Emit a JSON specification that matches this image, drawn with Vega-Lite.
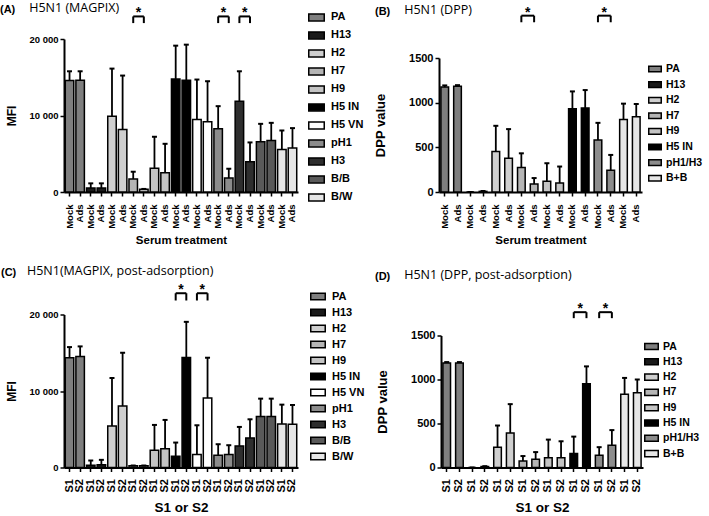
{
  "$schema": "https://vega.github.io/schema/vega-lite/v6.json",
  "padding": {"left": 0, "top": 2, "right": 0, "bottom": 0},
  "autosize": {"type": "pad"},
  "config": {
    "view": {"stroke": null},
    "font": "Liberation Sans",
    "axis": {"labelFont": "Liberation Sans", "labelFontWeight": "bold", "labelColor": "black", "titleFont": "Liberation Sans", "titleFontWeight": "bold", "titleColor": "black", "domainColor": "black", "domainWidth": 2, "tickColor": "black", "tickWidth": 1.5, "tickSize": 4, "grid": false, "labelPadding": 2},
    "axisX": {"labelAngle": -90, "labelFontSize": 9.5, "titleFontSize": 11.5, "titlePadding": 6, "labelPadding": 8},
    "axisY": {"labelFontSize": 9.5, "titleFontSize": 12, "titlePadding": 10},
    "title": {"font": "Liberation Sans", "fontSize": 11, "fontWeight": "bold", "color": "black", "subtitleFont": "Open Sans", "subtitleFontSize": 12.5, "subtitleColor": "black", "subtitleFontWeight": "normal", "anchor": "start", "frame": "group", "subtitlePadding": -13},
    "legend": {"orient": "none", "title": null, "symbolType": "M-1,-0.45H1V0.45H-1Z", "symbolStrokeColor": "black", "symbolStrokeWidth": 1.5, "labelFont": "Liberation Sans", "labelFontWeight": "bold", "labelFontSize": 11, "labelColor": "black", "labelOffset": 6, "padding": 0}
  },
  "datasets": {
    "A": [
      {"id": "PA|Mock", "g": "PA", "v": 14570, "hi": 15780},
      {"id": "PA|Ads", "g": "PA", "v": 14610, "hi": 15780},
      {"id": "H13|Mock", "g": "H13", "v": 520, "hi": 1130},
      {"id": "H13|Ads", "g": "H13", "v": 520, "hi": 1130},
      {"id": "H2|Mock", "g": "H2", "v": 9910, "hi": 16130},
      {"id": "H2|Ads", "g": "H2", "v": 8170, "hi": 15220},
      {"id": "H7|Mock", "g": "H7", "v": 1700, "hi": 2650},
      {"id": "H7|Ads", "g": "H7", "v": 350, "hi": 400},
      {"id": "H9|Mock", "g": "H9", "v": 3090, "hi": 7220},
      {"id": "H9|Ads", "g": "H9", "v": 2520, "hi": 6300},
      {"id": "H5 IN|Mock", "g": "H5 IN", "v": 14780, "hi": 19130},
      {"id": "H5 IN|Ads", "g": "H5 IN", "v": 14610, "hi": 19260},
      {"id": "H5 VN|Mock", "g": "H5 VN", "v": 9480, "hi": 14700},
      {"id": "H5 VN|Ads", "g": "H5 VN", "v": 9170, "hi": 14480},
      {"id": "pH1|Mock", "g": "pH1", "v": 8260, "hi": 11220},
      {"id": "pH1|Ads", "g": "pH1", "v": 1830, "hi": 3040},
      {"id": "H3|Mock", "g": "H3", "v": 11870, "hi": 15780},
      {"id": "H3|Ads", "g": "H3", "v": 3960, "hi": 6480},
      {"id": "B/B|Mock", "g": "B/B", "v": 6570, "hi": 8910},
      {"id": "B/B|Ads", "g": "B/B", "v": 6740, "hi": 9040},
      {"id": "B/W|Mock", "g": "B/W", "v": 5570, "hi": 8040},
      {"id": "B/W|Ads", "g": "B/W", "v": 5740, "hi": 8350}
    ],
    "B": [
      {"id": "PA|Mock", "g": "PA", "v": 1174, "hi": 1193},
      {"id": "PA|Ads", "g": "PA", "v": 1185, "hi": 1196},
      {"id": "H13|Mock", "g": "H13", "v": 0, "hi": 0},
      {"id": "H13|Ads", "g": "H13", "v": 7, "hi": 11},
      {"id": "H2|Mock", "g": "H2", "v": 452, "hi": 741},
      {"id": "H2|Ads", "g": "H2", "v": 378, "hi": 704},
      {"id": "H7|Mock", "g": "H7", "v": 274, "hi": 433},
      {"id": "H7|Ads", "g": "H7", "v": 89, "hi": 156},
      {"id": "H9|Mock", "g": "H9", "v": 119, "hi": 322},
      {"id": "H9|Ads", "g": "H9", "v": 100, "hi": 285},
      {"id": "H5 IN|Mock", "g": "H5 IN", "v": 933, "hi": 1126},
      {"id": "H5 IN|Ads", "g": "H5 IN", "v": 941, "hi": 1141},
      {"id": "pH1/H3|Mock", "g": "pH1/H3", "v": 581, "hi": 774},
      {"id": "pH1/H3|Ads", "g": "pH1/H3", "v": 244, "hi": 415},
      {"id": "B+B|Mock", "g": "B+B", "v": 811, "hi": 989},
      {"id": "B+B|Ads", "g": "B+B", "v": 841, "hi": 985}
    ],
    "C": [
      {"id": "PA|S1", "g": "PA", "v": 14350, "hi": 15740},
      {"id": "PA|S2", "g": "PA", "v": 14520, "hi": 15830},
      {"id": "H13|S1", "g": "H13", "v": 300, "hi": 913},
      {"id": "H13|S2", "g": "H13", "v": 350, "hi": 1000},
      {"id": "H2|S1", "g": "H2", "v": 5435, "hi": 11700},
      {"id": "H2|S2", "g": "H2", "v": 8043, "hi": 15000},
      {"id": "H7|S1", "g": "H7", "v": 217, "hi": 260},
      {"id": "H7|S2", "g": "H7", "v": 217, "hi": 260},
      {"id": "H9|S1", "g": "H9", "v": 2261, "hi": 5565},
      {"id": "H9|S2", "g": "H9", "v": 2435, "hi": 6217},
      {"id": "H5 IN|S1", "g": "H5 IN", "v": 1478, "hi": 3260},
      {"id": "H5 IN|S2", "g": "H5 IN", "v": 14390, "hi": 19040},
      {"id": "H5 VN|S1", "g": "H5 VN", "v": 1696, "hi": 5520},
      {"id": "H5 VN|S2", "g": "H5 VN", "v": 9087, "hi": 14350},
      {"id": "pH1|S1", "g": "pH1", "v": 1609, "hi": 3043},
      {"id": "pH1|S2", "g": "pH1", "v": 1696, "hi": 2913},
      {"id": "H3|S1", "g": "H3", "v": 2826, "hi": 5304},
      {"id": "H3|S2", "g": "H3", "v": 3870, "hi": 6300},
      {"id": "B/B|S1", "g": "B/B", "v": 6652, "hi": 9000},
      {"id": "B/B|S2", "g": "B/B", "v": 6652, "hi": 9000},
      {"id": "B/W|S1", "g": "B/W", "v": 5696, "hi": 8217},
      {"id": "B/W|S2", "g": "B/W", "v": 5652, "hi": 8174}
    ],
    "D": [
      {"id": "PA|S1", "g": "PA", "v": 1188, "hi": 1198},
      {"id": "PA|S2", "g": "PA", "v": 1188, "hi": 1198},
      {"id": "H13|S1", "g": "H13", "v": 0, "hi": 0},
      {"id": "H13|S2", "g": "H13", "v": 11, "hi": 15},
      {"id": "H2|S1", "g": "H2", "v": 231, "hi": 477},
      {"id": "H2|S2", "g": "H2", "v": 392, "hi": 720},
      {"id": "H7|S1", "g": "H7", "v": 75, "hi": 130},
      {"id": "H7|S2", "g": "H7", "v": 93, "hi": 175},
      {"id": "H9|S1", "g": "H9", "v": 112, "hi": 317},
      {"id": "H9|S2", "g": "H9", "v": 112, "hi": 298},
      {"id": "H5 IN|S1", "g": "H5 IN", "v": 160, "hi": 351},
      {"id": "H5 IN|S2", "g": "H5 IN", "v": 951, "hi": 1149},
      {"id": "pH1/H3|S1", "g": "pH1/H3", "v": 138, "hi": 231},
      {"id": "pH1/H3|S2", "g": "pH1/H3", "v": 254, "hi": 425},
      {"id": "B+B|S1", "g": "B+B", "v": 832, "hi": 1018},
      {"id": "B+B|S2", "g": "B+B", "v": 850, "hi": 1000}
    ],
    "sA": [{"a": "H7|Mock", "b": "H7|Ads"}, {"a": "pH1|Mock", "b": "pH1|Ads"}, {"a": "H3|Mock", "b": "H3|Ads"}],
    "sB": [{"a": "H7|Mock", "b": "H7|Ads"}, {"a": "pH1/H3|Mock", "b": "pH1/H3|Ads"}],
    "sC": [{"a": "H5 IN|S1", "b": "H5 IN|S2"}, {"a": "H5 VN|S1", "b": "H5 VN|S2"}],
    "sD": [{"a": "H5 IN|S1", "b": "H5 IN|S2"}, {"a": "pH1/H3|S1", "b": "pH1/H3|S2"}]
  },
  "vconcat": [
    {
      "hconcat": [
        {
          "width": 234, "height": 153,
          "title": {"text": "(A)", "subtitle": "\u200b\u00a0\u00a0\u00a0\u00a0\u00a0\u00a0\u00a0\u00a0\u00a0H5N1 (MAGPIX)", "dx": -64, "offset": -11},
          "layer": [
            {
              "data": {"name": "A"},
              "encoding": {"x": {"field": "id", "type": "nominal", "scale": {"domain": ["PA|Mock","PA|Ads","H13|Mock","H13|Ads","H2|Mock","H2|Ads","H7|Mock","H7|Ads","H9|Mock","H9|Ads","H5 IN|Mock","H5 IN|Ads","H5 VN|Mock","H5 VN|Ads","pH1|Mock","pH1|Ads","H3|Mock","H3|Ads","B/B|Mock","B/B|Ads","B/W|Mock","B/W|Ads"], "paddingInner": 0.2, "paddingOuter": 0.12}, "axis": {"title": "Serum treatment", "labelExpr": "split(datum.value, '|')[1]"}}},
              "layer": [
                {"mark": {"type": "bar", "stroke": "black", "strokeWidth": 1.5},
                 "encoding": {
                   "y": {"field": "v", "type": "quantitative", "scale": {"domain": [0, 20000], "nice": false}, "axis": {"title": "MFI", "values": [0, 5000, 10000, 15000, 20000], "labelExpr": "datum.value >= 10000 ? floor(datum.value / 1000) + ' 000' : '' + datum.value"}},
                   "fill": {"field": "g", "type": "nominal", "scale": {"domain": ["PA","H13","H2","H7","H9","H5 IN","H5 VN","pH1","H3","B/B","B/W"], "range": ["#7f7f7f","#1a1a1a","#cfcfcf","#b5b5b5","#c4c4c4","#000000","#ffffff","#8c8c8c","#2e2e2e","#5a5a5a","#e6e6e6"]}, "legend": {"legendX": 244, "legendY": -30.1, "symbolSize": 240, "rowPadding": 3.0}}
                 }},
                {"mark": {"type": "rule", "strokeWidth": 1.8, "color": "black"}, "encoding": {"y": {"field": "v", "type": "quantitative"}, "y2": {"field": "hi"}}},
                {"mark": {"type": "tick", "color": "black", "thickness": 2, "size": 5, "opacity": 1}, "encoding": {"y": {"field": "hi", "type": "quantitative"}}}
              ]
            },
            {
              "data": {"name": "sA"},
              "layer": [
                {"mark": {"type": "rule", "strokeWidth": 2, "color": "black"}, "encoding": {"x": {"field": "a", "type": "nominal"}, "x2": {"field": "b"}, "y": {"datum": 22950, "type": "quantitative"}}},
                {"mark": {"type": "rule", "strokeWidth": 2, "color": "black"}, "encoding": {"x": {"field": "a", "type": "nominal"}, "y": {"datum": 22950, "type": "quantitative"}, "y2": {"datum": 22080}}},
                {"mark": {"type": "rule", "strokeWidth": 2, "color": "black"}, "encoding": {"x": {"field": "b", "type": "nominal"}, "y": {"datum": 22950, "type": "quantitative"}, "y2": {"datum": 22080}}},
                {"mark": {"type": "text", "text": "*", "fontSize": 14, "fontWeight": "bold", "baseline": "alphabetic", "dy": 1}, "encoding": {"x": {"field": "a", "type": "nominal", "bandPosition": 1.125}, "y": {"datum": 22950, "type": "quantitative"}}}
              ]
            }
          ]
        },
        {
          "width": 203, "height": 153,
          "title": {"text": "(B)", "subtitle": "\u200b\u00a0\u00a0\u00a0\u00a0\u00a0\u00a0\u00a0\u00a0\u00a0H5N1 (DPP)", "dx": -64, "offset": -13},
          "layer": [
            {
              "data": {"name": "B"},
              "encoding": {"x": {"field": "id", "type": "nominal", "scale": {"domain": ["PA|Mock","PA|Ads","H13|Mock","H13|Ads","H2|Mock","H2|Ads","H7|Mock","H7|Ads","H9|Mock","H9|Ads","H5 IN|Mock","H5 IN|Ads","pH1/H3|Mock","pH1/H3|Ads","B+B|Mock","B+B|Ads"], "paddingInner": 0.4, "paddingOuter": 0.15}, "axis": {"title": "Serum treatment", "labelExpr": "split(datum.value, '|')[1]"}}},
              "layer": [
                {"mark": {"type": "bar", "stroke": "black", "strokeWidth": 1.5},
                 "encoding": {
                   "y": {"field": "v", "type": "quantitative", "scale": {"domain": [0, 1500], "range": [153, 19], "nice": false}, "axis": {"title": "DPP value", "titleFontSize": 13, "titlePadding": 21, "labelFontSize": 11, "values": [0, 500, 1000, 1500], "format": "d"}},
                   "fill": {"field": "g", "type": "nominal", "scale": {"domain": ["PA","H13","H2","H7","H9","H5 IN","pH1/H3","B+B"], "range": ["#7f7f7f","#1a1a1a","#cfcfcf","#b5b5b5","#c4c4c4","#000000","#8c8c8c","#e6e6e6"]}, "legend": {"legendX": 209, "legendY": 23, "symbolSize": 156, "rowPadding": 2.6, "labelOffset": 4, "labelFontSize": 10.5}}
                 }},
                {"mark": {"type": "rule", "strokeWidth": 1.8, "color": "black"}, "encoding": {"y": {"field": "v", "type": "quantitative"}, "y2": {"field": "hi"}}},
                {"mark": {"type": "tick", "color": "black", "thickness": 2, "size": 5, "opacity": 1}, "encoding": {"y": {"field": "hi", "type": "quantitative"}}}
              ]
            },
            {
              "data": {"name": "sB"},
              "layer": [
                {"mark": {"type": "rule", "strokeWidth": 2, "color": "black"}, "encoding": {"x": {"field": "a", "type": "nominal"}, "x2": {"field": "b"}, "y": {"datum": 1974, "type": "quantitative"}}},
                {"mark": {"type": "rule", "strokeWidth": 2, "color": "black"}, "encoding": {"x": {"field": "a", "type": "nominal"}, "y": {"datum": 1974, "type": "quantitative"}, "y2": {"datum": 1900}}},
                {"mark": {"type": "rule", "strokeWidth": 2, "color": "black"}, "encoding": {"x": {"field": "b", "type": "nominal"}, "y": {"datum": 1974, "type": "quantitative"}, "y2": {"datum": 1900}}},
                {"mark": {"type": "text", "text": "*", "fontSize": 14, "fontWeight": "bold", "baseline": "alphabetic", "dy": 1}, "encoding": {"x": {"field": "a", "type": "nominal", "bandPosition": 1.333}, "y": {"datum": 1974, "type": "quantitative"}}}
              ]
            }
          ]
        }
      ],
      "spacing": 10,
      "resolve": {"scale": {"fill": "independent", "x": "independent", "y": "independent"}, "legend": {"fill": "independent"}}
    },
    {
      "hconcat": [
        {
          "width": 234, "height": 153,
          "title": {"text": "(C)", "subtitle": "\u200b\u00a0\u00a0\u00a0\u00a0\u00a0\u00a0\u00a0\u00a0H5N1(MAGPIX, post-adsorption)", "dx": -63, "offset": 3},
          "layer": [
            {
              "data": {"name": "C"},
              "encoding": {"x": {"field": "id", "type": "nominal", "scale": {"domain": ["PA|S1","PA|S2","H13|S1","H13|S2","H2|S1","H2|S2","H7|S1","H7|S2","H9|S1","H9|S2","H5 IN|S1","H5 IN|S2","H5 VN|S1","H5 VN|S2","pH1|S1","pH1|S2","H3|S1","H3|S2","B/B|S1","B/B|S2","B/W|S1","B/W|S2"], "paddingInner": 0.2, "paddingOuter": 0.12}, "axis": {"title": "S1 or S2", "titleFontSize": 13.5, "titlePadding": 9, "labelFontSize": 11, "labelPadding": 7, "labelExpr": "split(datum.value, '|')[1]"}}},
              "layer": [
                {"mark": {"type": "bar", "stroke": "black", "strokeWidth": 1.5},
                 "encoding": {
                   "y": {"field": "v", "type": "quantitative", "scale": {"domain": [0, 20000], "nice": false}, "axis": {"title": "MFI", "values": [0, 5000, 10000, 15000, 20000], "labelExpr": "datum.value >= 10000 ? floor(datum.value / 1000) + ' 000' : '' + datum.value"}},
                   "fill": {"field": "g", "type": "nominal", "scale": {"domain": ["PA","H13","H2","H7","H9","H5 IN","H5 VN","pH1","H3","B/B","B/W"], "range": ["#7f7f7f","#1a1a1a","#cfcfcf","#b5b5b5","#c4c4c4","#000000","#ffffff","#8c8c8c","#2e2e2e","#5a5a5a","#e6e6e6"]}, "legend": {"legendX": 246, "legendY": -26, "symbolSize": 210, "rowPadding": 1.0}}
                 }},
                {"mark": {"type": "rule", "strokeWidth": 1.8, "color": "black"}, "encoding": {"y": {"field": "v", "type": "quantitative"}, "y2": {"field": "hi"}}},
                {"mark": {"type": "tick", "color": "black", "thickness": 2, "size": 5, "opacity": 1}, "encoding": {"y": {"field": "hi", "type": "quantitative"}}}
              ]
            },
            {
              "data": {"name": "sC"},
              "layer": [
                {"mark": {"type": "rule", "strokeWidth": 2, "color": "black"}, "encoding": {"x": {"field": "a", "type": "nominal"}, "x2": {"field": "b"}, "y": {"datum": 22780, "type": "quantitative"}}},
                {"mark": {"type": "rule", "strokeWidth": 2, "color": "black"}, "encoding": {"x": {"field": "a", "type": "nominal"}, "y": {"datum": 22780, "type": "quantitative"}, "y2": {"datum": 21830}}},
                {"mark": {"type": "rule", "strokeWidth": 2, "color": "black"}, "encoding": {"x": {"field": "b", "type": "nominal"}, "y": {"datum": 22780, "type": "quantitative"}, "y2": {"datum": 21830}}},
                {"mark": {"type": "text", "text": "*", "fontSize": 14, "fontWeight": "bold", "baseline": "alphabetic", "dy": 1}, "encoding": {"x": {"field": "a", "type": "nominal", "bandPosition": 1.125}, "y": {"datum": 22780, "type": "quantitative"}}}
              ]
            }
          ]
        },
        {
          "width": 202, "height": 153,
          "title": {"text": "(D)", "subtitle": "\u200b\u00a0\u00a0\u00a0\u00a0\u00a0\u00a0\u00a0\u00a0\u00a0H5N1 (DPP, post-adsorption)", "dx": -66, "offset": 18},
          "layer": [
            {
              "data": {"name": "D"},
              "encoding": {"x": {"field": "id", "type": "nominal", "scale": {"domain": ["PA|S1","PA|S2","H13|S1","H13|S2","H2|S1","H2|S2","H7|S1","H7|S2","H9|S1","H9|S2","H5 IN|S1","H5 IN|S2","pH1/H3|S1","pH1/H3|S2","B+B|S1","B+B|S2"], "paddingInner": 0.4, "paddingOuter": 0.15}, "axis": {"title": "S1 or S2", "titleFontSize": 13.5, "titlePadding": 9, "labelFontSize": 11, "labelPadding": 7, "labelExpr": "split(datum.value, '|')[1]"}}},
              "layer": [
                {"mark": {"type": "bar", "stroke": "black", "strokeWidth": 1.5},
                 "encoding": {
                   "y": {"field": "v", "type": "quantitative", "scale": {"domain": [0, 1500], "range": [153, 21], "nice": false}, "axis": {"title": "DPP value", "titleFontSize": 13, "titlePadding": 21, "labelFontSize": 11, "values": [0, 500, 1000, 1500], "format": "d"}},
                   "fill": {"field": "g", "type": "nominal", "scale": {"domain": ["PA","H13","H2","H7","H9","H5 IN","pH1/H3","B+B"], "range": ["#7f7f7f","#1a1a1a","#cfcfcf","#b5b5b5","#c4c4c4","#000000","#8c8c8c","#e6e6e6"]}, "legend": {"legendX": 203, "legendY": 24.5, "symbolSize": 182, "rowPadding": 1.3, "labelOffset": 4, "labelFontSize": 10.5}}
                 }},
                {"mark": {"type": "rule", "strokeWidth": 1.8, "color": "black"}, "encoding": {"y": {"field": "v", "type": "quantitative"}, "y2": {"field": "hi"}}},
                {"mark": {"type": "tick", "color": "black", "thickness": 2, "size": 5, "opacity": 1}, "encoding": {"y": {"field": "hi", "type": "quantitative"}}}
              ]
            },
            {
              "data": {"name": "sD"},
              "layer": [
                {"mark": {"type": "rule", "strokeWidth": 2, "color": "black"}, "encoding": {"x": {"field": "a", "type": "nominal"}, "x2": {"field": "b"}, "y": {"datum": 1765, "type": "quantitative"}}},
                {"mark": {"type": "rule", "strokeWidth": 2, "color": "black"}, "encoding": {"x": {"field": "a", "type": "nominal"}, "y": {"datum": 1765, "type": "quantitative"}, "y2": {"datum": 1697}}},
                {"mark": {"type": "rule", "strokeWidth": 2, "color": "black"}, "encoding": {"x": {"field": "b", "type": "nominal"}, "y": {"datum": 1765, "type": "quantitative"}, "y2": {"datum": 1697}}},
                {"mark": {"type": "text", "text": "*", "fontSize": 14, "fontWeight": "bold", "baseline": "alphabetic", "dy": 1}, "encoding": {"x": {"field": "a", "type": "nominal", "bandPosition": 1.333}, "y": {"datum": 1765, "type": "quantitative"}}}
              ]
            }
          ]
        }
      ],
      "spacing": 10,
      "resolve": {"scale": {"fill": "independent", "x": "independent", "y": "independent"}, "legend": {"fill": "independent"}}
    }
  ],
  "spacing": 18.5,
  "resolve": {"scale": {"fill": "independent", "x": "independent", "y": "independent"}, "legend": {"fill": "independent"}}
}
